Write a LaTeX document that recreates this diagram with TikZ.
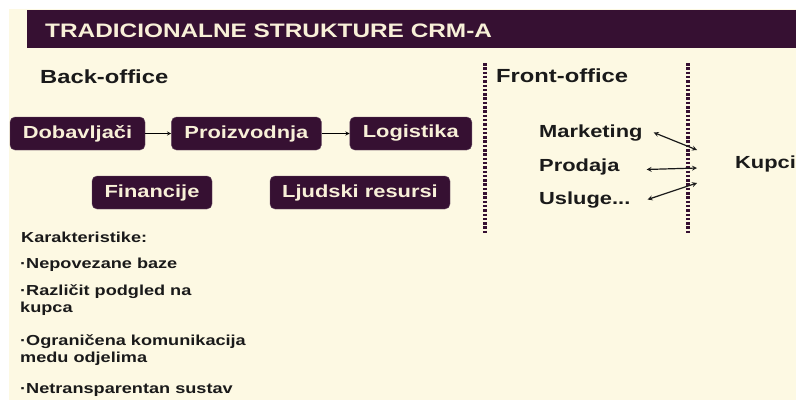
\documentclass[tikz,border=0pt]{standalone}
\usepackage{fontspec}
\setmainfont[FakeStretch=1.25]{Liberation Sans}
\usetikzlibrary{positioning}
\definecolor{ljub}{HTML}{361032}
\definecolor{krem}{HTML}{FDF9E3}
\definecolor{svijetla}{HTML}{F8F0D8}
\definecolor{tamna}{HTML}{1A1A1A}

\tikzset{
  kutija/.style={draw=ljub!75!white, fill=ljub, rounded corners=5pt, text=svijetla,
    font=\fontsize{17.5}{20}\selectfont\bfseries, minimum height=33pt, inner sep=0pt},
  tekst/.style={inner sep=0pt, anchor=base west, text=tamna, font=\fontsize{17.5}{20}\selectfont\bfseries},
  mali/.style={inner sep=0pt, anchor=base west, text=tamna, align=left,
    font=\fontsize{14.5}{17}\selectfont\bfseries},
  tocke/.style={ljub, line width=3.5pt, dash pattern=on 2.5pt off 1.8pt}
}

\begin{document}
\begin{tikzpicture}[x=1pt,y=-1pt]
  \useasboundingbox (0,0) rectangle (796,400);
  \fill[krem] (9,9) rectangle (796,400);
  \fill[ljub] (27,10) rectangle (796,48);
  \node[tekst, text=svijetla, font=\fontsize{19.5}{22}\selectfont\bfseries] (naslov) at (45,37) {TRADICIONALNE STRUKTURE CRM-A};

  \node[tekst, font=\fontsize{19}{22}\selectfont\bfseries] (back) at (40,83) {Back-office};
  \node[tekst, font=\fontsize{19}{22}\selectfont\bfseries] (front) at (496,82) {Front-office};

  \node[kutija, minimum width=135pt] (dob) at (77.5,133.5) {Dobavljači};
  \node[kutija, minimum width=150pt, right=26pt of dob] (proiz) {Proizvodnja};
  \node[kutija, minimum width=122pt, right=28pt of proiz] (log) {Logistika};
  \node[kutija, minimum width=120pt] (fin) at (152,192.5) {Financije};
  \node[kutija, minimum width=180pt] (ljud) at (360,192.5) {Ljudski resursi};
  \path[-stealth, line width=0.9pt]
    (dob) edge (proiz)
    (proiz) edge (log);

  \coordinate (l1t) at (485,63);
  \coordinate (l1b) at (485,233);
  \coordinate (l2t) at (688,63);
  \coordinate (l2b) at (688,233);
  \draw[tocke] (l1t) -- (l1b);
  \draw[tocke] (l2t) -- (l2b);

  \node[tekst] (mark) at (539,137) {Marketing};
  \node[tekst] (prod) at (539,171) {Prodaja};
  \node[tekst] (usl) at (539,204) {Usluge...};
  \node[tekst] (kupci) at (735,168) {Kupci};

  \coordinate (k1) at (697,150);
  \coordinate (k2) at (697,168);
  \coordinate (k3) at (697,183);
  \path[stealth-stealth, line width=1.2pt, tamna]
    ([xshift=11pt]mark.east) edge (k1)
    ([xshift=27pt,yshift=-3pt]prod.east) edge (k2)
    ([xshift=17pt]usl.east) edge (k3);

  \node[mali] (kar) at (21,242) {Karakteristike:};
  \node[mali] (st1) at (20,268) {·Nepovezane baze};
  \node[mali] (st2) at (20,312) {·Različit podgled na\\kupca};
  \node[mali] (st3) at (20,362) {·Ograničena komunikacija\\medu odjelima};
  \node[mali] (st4) at (20,393) {·Netransparentan sustav};
\end{tikzpicture}
\end{document}
